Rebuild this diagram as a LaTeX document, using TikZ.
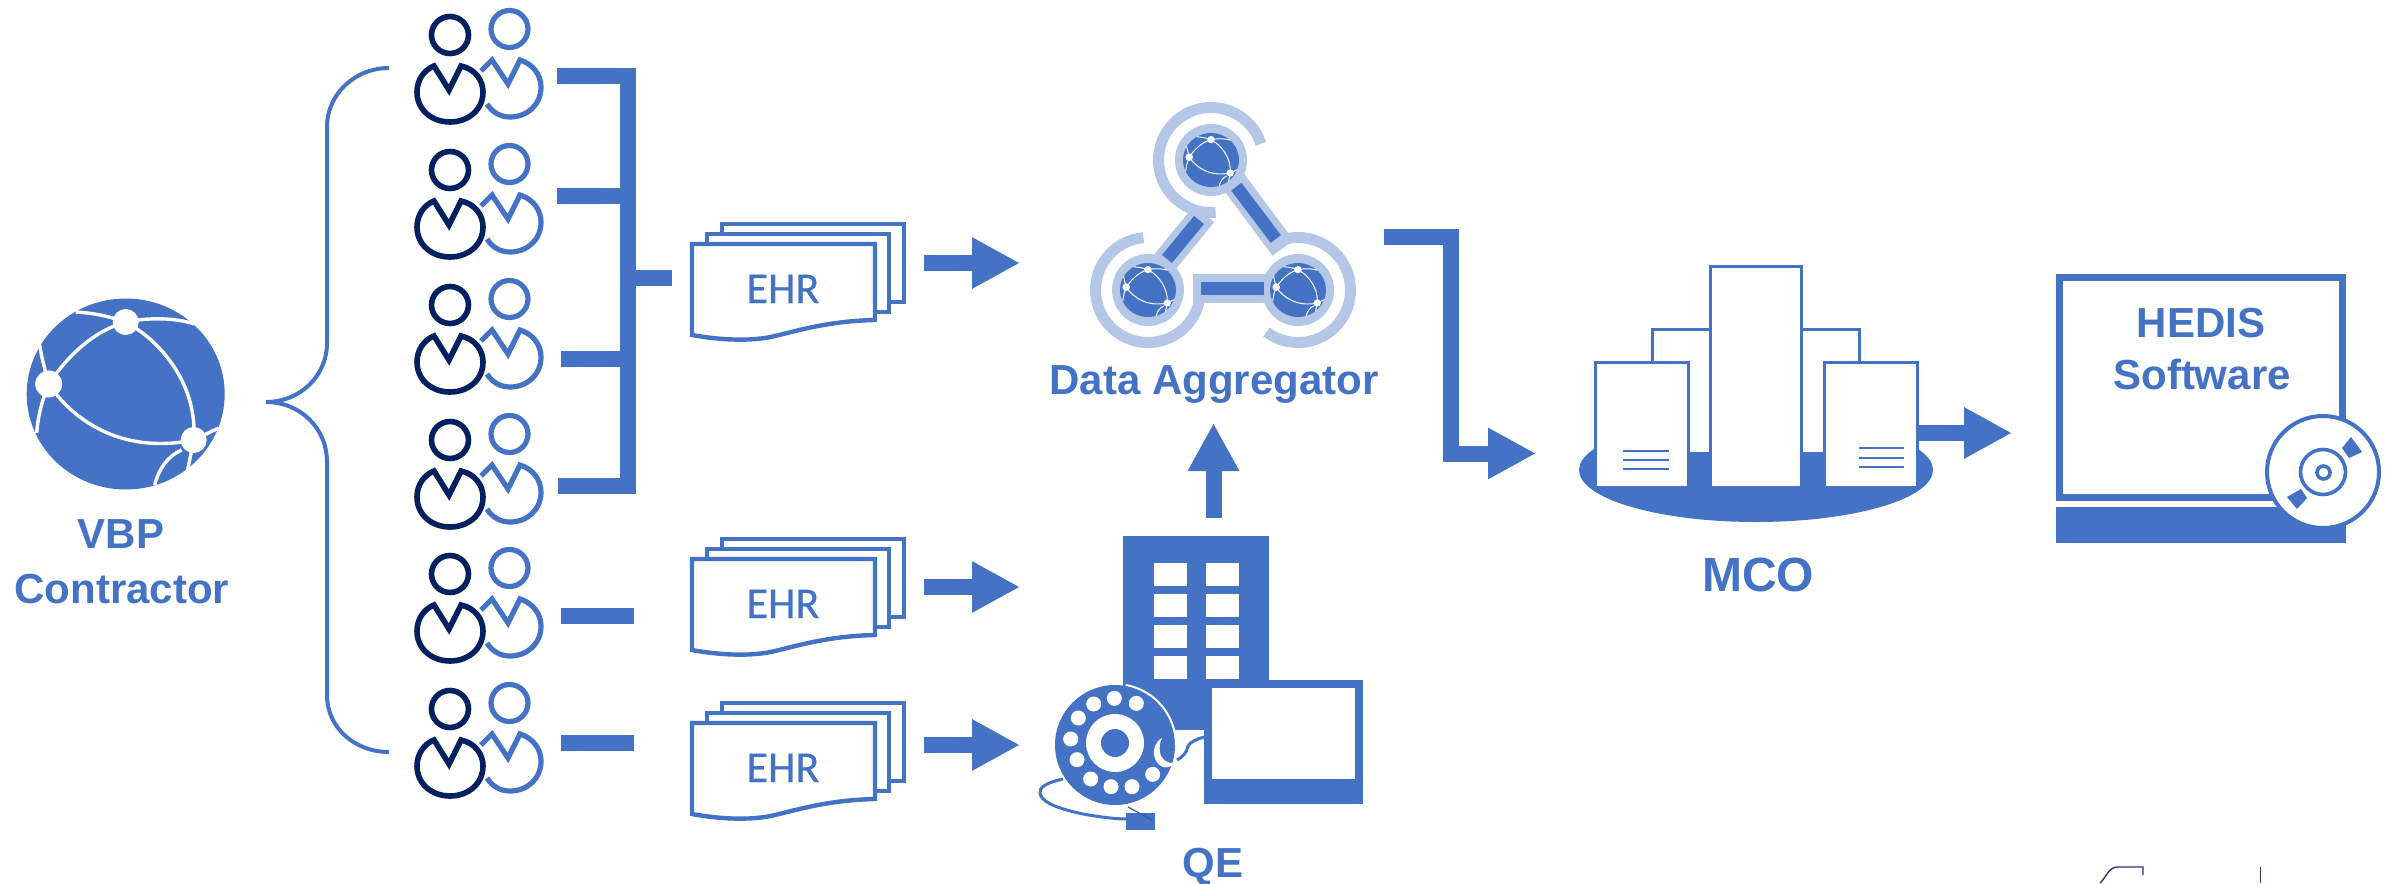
\documentclass[tikz,border=0pt]{standalone}
\usepackage{fontspec}
\setmainfont{Liberation Sans}
\newfontfamily\ehrfont[FakeBold=0.5]{Carlito}
\usetikzlibrary{positioning,calc,arrows.meta}
\definecolor{mainblue}{HTML}{4472C4}
\definecolor{navy}{HTML}{002060}
\definecolor{paleblue}{HTML}{B4C7E7}
\definecolor{logopurple}{HTML}{3F2A78}
\tikzset{
	labeltext/.style={text=mainblue, font=\fontsize{21}{25}\selectfont\bfseries, anchor=base, inner sep=0pt},
	ehrtext/.style={text=mainblue, font=\ehrfont\fontsize{22}{26}\selectfont, anchor=base, inner sep=0pt},
	bar/.style={draw=mainblue, line width=8pt, miter limit=10},
	bararrow/.style={bar, -{Triangle[length=24pt,width=24pt]}},
	page/.style={draw=mainblue, fill=white, line width=2.2pt},
	tower/.style={draw=mainblue, fill=white, line width=1.5pt},
	towerline/.style={draw=mainblue, line width=1.3pt},
	persons/.pic={
		\draw[navy, line width=2.8pt] (450,35) circle (18.5);
		\draw[navy, line width=2.8pt, miter limit=10] (461,66) .. controls (475,69) and (483,80) .. (483,92) .. controls (483,110) and (468,122) .. (450,122) .. controls (432,122) and (417,110) .. (417,92) .. controls (417,80) and (424,70) .. (434,66) -- (449,90) -- cycle;
		\draw[mainblue, line width=2.6pt] (509.5,29) circle (18.5);
		\draw[mainblue, line width=2.6pt, miter limit=10] (481,71) -- (492,60) -- (508,84) -- (520,60) .. controls (533,64) and (541,75) .. (541,87) .. controls (541,105) and (527,117) .. (510,117) .. controls (500,117) and (492,112) .. (487,104);
	},
	ehrdoc/.pic={
		\draw[page] (722,539) rectangle (904,617);
		\draw[page] (707,549) rectangle (889,627);
		\draw[page] (692,559) -- (875,559) -- (875,635) .. controls (830,636) and (800,645) .. (775,651) .. controls (755,656) and (725,656) .. (692,650) -- cycle;
	},
}
% x y center, then size against the large globe
\newcommand{\globeicon}[3]{
	\begin{scope}[shift={(#1,#2)}, scale=#3]
		\fill[mainblue] (0,0) ellipse [x radius=99, y radius=95.5];
		\draw[white, line width=#3*1.7pt] (-50,-82) .. controls (-30,-81) and (-15,-77) .. (0,-72) .. controls (25,-77) and (50,-76) .. (69,-70);
		\draw[white, line width=#3*1.7pt] (-86,-49) .. controls (-84,-35) and (-80,-22) .. (-77,-10) .. controls (-85,10) and (-88,25) .. (-89,39);
		\draw[white, line width=#3*1.7pt] (0,-72) .. controls (-35,-62) and (-60,-35) .. (-77,-10) .. controls (-50,30) and (0,60) .. (68,46) .. controls (72,-5) and (40,-50) .. (0,-72);
		\draw[white, line width=#3*1.7pt] (93,34) -- (68,46) -- (62,76);
		\draw[white, line width=#3*1.7pt] (56,56) .. controls (42,62) and (33,75) .. (29,91);
		\fill[white] (0,-72) circle (13) (-77,-10) circle (13.5) (68,46) circle (13);
	\end{scope}
}

\begin{document}
\begin{tikzpicture}[x=0.5pt,y=-0.5pt]
	\useasboundingbox (0,0) rectangle (2397,883);

	% contractor
	\globeicon{125.7}{394}{1}
	\node[labeltext] (Vbp) at (121,548) {VBP};
	\node[labeltext] (Con) at (122,603) {Contractor};
	\coordinate (BrTop) at (389,68);
	\coordinate (BrTip) at (266,402);
	\coordinate (BrBot) at (389,752);
	\draw[mainblue, line width=2pt] (BrTop) .. controls (355,68) and (327,94) .. (327,127) -- (327,343) .. controls (327,376) and (300,402) .. (BrTip) .. controls (300,402) and (327,428) .. (327,462) -- (327,695) .. controls (327,728) and (355,752) .. (BrBot);

	\foreach \dy in {0,135,270,405,539,674}
		\pic at (0,\dy) {persons};

	% bus into the first record stack
	\coordinate (Per1) at (557,76);
	\coordinate (Per2) at (557,196);
	\coordinate (Per3) at (561,359);
	\coordinate (Per4) at (558,486);
	\coordinate (BusTop) at (628,76);
	\coordinate (BusBot) at (628,486);
	\draw[bar] (Per1) -- (BusTop) -- (BusBot) -- (Per4);
	\draw[bar] (Per2) -- (Per2 -| BusTop);
	\draw[bar] (Per3) -- (Per3 -| BusTop);
	\coordinate (BusMid) at (628,277.5);
	\coordinate (BusOut) at (672,277.5);
	\draw[bar] (BusMid) -- (BusOut);
	\coordinate (Per5) at (561,616);
	\coordinate (Per5e) at (634,616);
	\coordinate (Per6) at (561,743);
	\coordinate (Per6e) at (634,743);
	\draw[bar] (Per5) -- (Per5e);
	\draw[bar] (Per6) -- (Per6e);

	% records
	\foreach \i/\dy/\ay in {1/-315/263,2/0/587,3/164/745} {
		\pic at (0,\dy) {ehrdoc};
		\node[ehrtext] (Ehr\i) at (783,618+\dy) {EHR};
		\coordinate (Out\i) at (924,\ay);
		\coordinate (In\i) at (1020,\ay);
		\draw[bararrow] (Out\i) -- (In\i);
	}

	% aggregator
	\draw[paleblue, line width=5.5pt] (1211,160) ++(-18:52.5) arc [start angle=-18, end angle=-275, radius=52.5];
	\draw[paleblue, line width=5.5pt] (1148,290) ++(-95:52.5) arc [start angle=-95, end angle=-350, radius=52.5];
	\draw[paleblue, line width=5.5pt] (1298,290) ++(-233:52.5) arc [start angle=-233, end angle=-480, radius=52.5];
	\draw[paleblue, line width=13pt] (1155,274) -- (1204,214);
	\draw[paleblue, line width=13pt] (1225,170) -- (1283,248);
	\fill[paleblue] (1193,274) rectangle (1267,303);
	\fill[paleblue] (1211,160) circle (36) (1148,290) circle (36) (1298,290) circle (36);
	\draw[mainblue, line width=6.4pt] (1199,220) -- (1167,259);
	\draw[mainblue, line width=6.4pt] (1236.3,186.7) -- (1275.8,239);
	\fill[mainblue] (1201,282) rectangle (1264,295);
	\globeicon{1211}{160}{0.283}
	\globeicon{1148}{290}{0.283}
	\globeicon{1298}{290}{0.283}
	\node[labeltext] (Agg) at (1214,394) {Data Aggregator};

	% exchange
	\fill[mainblue] (1123,536) rectangle (1269,730);
	\foreach \wy in {563,594,625,656}
		\foreach \wx in {1154,1206}
			\fill[white] (\wx,\wy) rectangle +(33,22.5);
	\fill[mainblue] (1204,680) rectangle (1363,804);
	\fill[white] (1212,688) rectangle (1355,779);
	\fill[mainblue] (1115,745) circle (60);
	\draw[white, line width=1pt] (1115,745) ++(-80:61) arc [start angle=-80, end angle=0, radius=61];
	\fill[white] (1115,743) circle (29);
	\fill[mainblue] (1115,743) circle (14);
	\foreach \hx/\hy in {343/595,281/612,235/654,212/717,231/779,272/837,333/860,396/860,458/823,409/610}
		\fill[white] (1000+\hx/3,500+\hy/3) circle (7.5);
	\fill[white] (1162,738) .. controls (1155,742) and (1153,750) .. (1154,755) .. controls (1156,766) and (1166,772) .. (1175,763) .. controls (1168,764) and (1161,760) .. (1160,752) .. controls (1159,747) and (1160,742) .. (1162,738);
	\draw[mainblue, line width=1.5pt] (1177,760) .. controls (1183,757) and (1187,752) .. (1188,746) .. controls (1190,742) and (1197,739) .. (1204,737);
	\fill[mainblue] (1126,813) rectangle (1155,830);
	\draw[mainblue, line width=1.5pt] (1063,779) .. controls (1045,783) and (1039,788) .. (1040,793) .. controls (1041,800) and (1050,807) .. (1083,814) .. controls (1100,817) and (1115,819) .. (1127,819);
	\draw[mainblue!80!black, line width=0.6pt] (1128,807) -- (1152,820);
	\node[labeltext] (Qe) at (1213,877) {QE};
	\coordinate (QeOut) at (1213.5,518);
	\coordinate (AggIn) at (1213.5,423);
	\draw[bararrow] (QeOut) -- (AggIn);

	% plan
	\coordinate (AggOut) at (1384,237);
	\coordinate (McoIn) at (1536,453.5);
	\draw[bararrow] (AggOut) -- (1451,237) -- (1451,453.5) -- (McoIn);
	\coordinate (McoOut) at (1917,433);
	\coordinate (HedIn) at (2012,433);
	\draw[bararrow] (McoOut) -- (HedIn);
	\fill[mainblue] (1756,470) ellipse [x radius=177, y radius=52];
	\draw[tower] (1652,329) rectangle (1710,453);
	\draw[tower] (1801,329) rectangle (1859,453);
	\draw[tower] (1710,266) rectangle (1801,487);
	\draw[tower] (1595,362) rectangle (1688.5,487);
	\draw[tower] (1824,362) rectangle (1917,487);
	\foreach \ly in {451,460,469}
		\draw[towerline] (1623,\ly) -- (1669,\ly);
	\foreach \ly in {448,458,467}
		\draw[towerline] (1859,\ly) -- (1904,\ly);
	\node[labeltext, font=\fontsize{24}{28}\selectfont\bfseries] (Mco) at (1758,591) {MCO};

	% software box
	\draw[mainblue, fill=white, line width=3.5pt] (2059.5,277.5) rectangle (2342.5,497.5);
	\fill[mainblue] (2056,507) rectangle (2346,543);
	\node[labeltext] (Hed) at (2201,337) {HEDIS};
	\node[labeltext] (Sof) at (2202,389) {Software};
	\draw[mainblue, fill=white, line width=2pt] (2323,472) circle (56);
	\draw[mainblue, line width=1.8pt] (2323,472) circle (22.5);
	\draw[mainblue, line width=1.8pt] (2323.5,472.5) circle (6.5);
	\fill[mainblue] (2351,437) -- (2362,452) -- (2349,458) -- (2342,448) -- cycle;
	\fill[mainblue] (2287,497) -- (2301,489) -- (2307,498) -- (2297,509) -- cycle;

	% cropped mark at the lower edge
	\draw[logopurple, line width=0.7pt] (2100,883) .. controls (2106,878) and (2108,867) .. (2118,867) -- (2143,867) -- (2143,875);
	\draw[logopurple, line width=0.7pt] (2260.6,867) -- (2260.6,883);
\end{tikzpicture}
\end{document}
